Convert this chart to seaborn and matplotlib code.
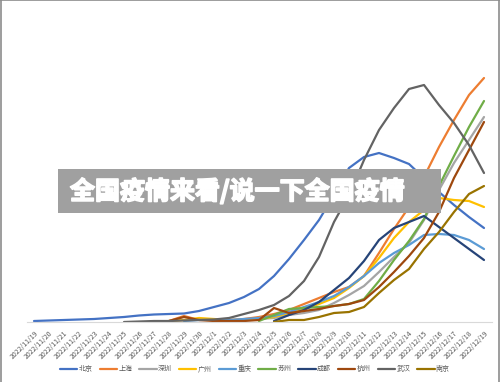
import pandas as pd
import matplotlib.pyplot as plt
import matplotlib.patheffects as pe
from matplotlib.patches import Rectangle
import seaborn as sns

# Fechas del eje x
dates = ['2022/11/19', '2022/11/20', '2022/11/21', '2022/11/22', '2022/11/23',
         '2022/11/24', '2022/11/25', '2022/11/26', '2022/11/27', '2022/11/28',
         '2022/11/29', '2022/11/30', '2022/12/1', '2022/12/2', '2022/12/3',
         '2022/12/4', '2022/12/5', '2022/12/6', '2022/12/7', '2022/12/8',
         '2022/12/9', '2022/12/10', '2022/12/11', '2022/12/12', '2022/12/13',
         '2022/12/14', '2022/12/15', '2022/12/16', '2022/12/17', '2022/12/18',
         '2022/12/19']

# Valores por ciudad (cada serie termina en la ultima fecha)
beijing = [1, 1.5, 2, 2.5, 3, 4, 5, 6.5, 7.5, 8, 8.5, 11, 15, 19, 25, 33, 46, 63,
           82, 102, 127, 154, 165, 169, 164, 158, 144, 130, 117, 105, 94]
shanghai = [1, 6, 2, 2, 2, 3, 5, 8, 12, 18, 24, 30, 35, 46, 69, 93, 115, 145,
            175, 202, 227, 244]
shenzhen = [1, 2, 2, 3, 4, 7, 9, 12, 19, 27, 36, 50, 65, 79, 102, 132, 159, 182, 205]
guangzhou = [1, 2, 4, 3, 2, 2, 3, 5, 9, 13, 18, 24, 34, 46, 64, 84, 100, 112,
             124, 122, 121, 115]
chongqing = [1, 2, 2, 2, 3, 4, 6, 10, 15, 20, 26, 35, 46, 59, 69, 77, 87, 88,
             87, 82, 73]
suzhou = [1, 7, 13, 14, 15, 16, 18, 23, 41, 62, 81, 103, 136, 166, 195, 221]
chengdu = [1, 7, 12, 20, 32, 44, 61, 82, 94, 100, 106, 95, 84, 73, 62]
hangzhou = [1, 5, 2, 1, 1, 1, 2, 14, 9, 11, 13, 16, 18, 22, 35, 50, 66, 84,
            110, 144, 172, 200]
wuhan = [0, 0.5, 1, 1, 1.5, 2, 2.5, 4, 8, 12, 17, 26, 41, 65, 100, 127, 162,
         192, 214, 233, 237, 217, 199, 177, 149]
nanjing = [0, 2, 2, 5, 9, 10, 15, 29, 42, 53, 73, 90, 110, 128, 136]

cities = ['北京', '上海', '深圳', '广州', '重庆', '苏州', '成都', '杭州', '武汉', '南京']
series = [beijing, shanghai, shenzhen, guangzhou, chongqing, suzhou, chengdu,
          hangzhou, wuhan, nanjing]
colors = ['#4472C4', '#ED7D31', '#A5A5A5', '#FFC000', '#5B9BD5', '#70AD47',
          '#264478', '#9E480E', '#636363', '#997300']

rows = []
for city, vals in zip(cities, series):
    start = len(dates) - len(vals)
    for k, v in enumerate(vals):
        rows.append({'idx': start + k, 'ciudad': city, 'valor': v})
df = pd.DataFrame(rows)

sns.set_style('white')
plt.rcParams['font.family'] = ['Noto Sans CJK SC', 'DejaVu Sans']

fig = plt.figure(figsize=(5, 3.82), dpi=100)
ax = fig.add_axes([26.5 / 500, 60 / 382, 465 / 500, 302 / 382])

sns.lineplot(data=df, x='idx', y='valor', hue='ciudad', hue_order=cities,
             palette=dict(zip(cities, colors)), linewidth=1.6, sort=True,
             estimator=None, legend=False, ax=ax)

ax.set_xlim(-0.5, len(dates) - 0.5)
ax.set_ylim(0, 302)
ax.set_xlabel('')
ax.set_ylabel('')
ax.set_yticks([])
ax.set_xticks(range(len(dates)))
ax.set_xticklabels(dates, rotation=45, ha='right', va='top',
                   rotation_mode='anchor', fontsize=5, color='#595959')
ax.tick_params(axis='x', length=3, width=0.6, color='#D9D9D9', pad=2)
for s in ['top', 'left', 'right']:
    ax.spines[s].set_visible(False)
ax.spines['bottom'].set_color('#D9D9D9')
ax.spines['bottom'].set_linewidth(0.8)

# Leyenda abajo
handles = [plt.Line2D([], [], color=c, linewidth=1.6) for c in colors]
leg = fig.legend(handles, cities, loc='center', bbox_to_anchor=(0.51, 0.034),
                 ncol=10, frameon=False, fontsize=5, handlelength=2.5,
                 handletextpad=0.2, columnspacing=1.0)
for t in leg.get_texts():
    t.set_color('#595959')

# Borde del grafico
for xs, ys in [([0.001, 0.001], [0, 1]), ([0, 1], [0.999, 0.999]),
               ([0.997, 0.997], [0, 1])]:
    fig.add_artist(plt.Line2D(xs, ys, color='#8C8C8C', linewidth=1.2,
                              transform=fig.transFigure))

# Banner superpuesto, en coordenadas de los ejes
ax.add_patch(Rectangle((1.6, 109), 25.5, 44, facecolor='#A0A0A0',
                       edgecolor='none', zorder=10, clip_on=False))
ax.text(2.4, 131, '全国疫情来看/说一下全国疫情', color='white', fontsize=18,
        fontweight='bold', ha='left', va='center', zorder=11,
        path_effects=[pe.withStroke(linewidth=1.2, foreground='white')])

plt.savefig('out.png', dpi=100)
